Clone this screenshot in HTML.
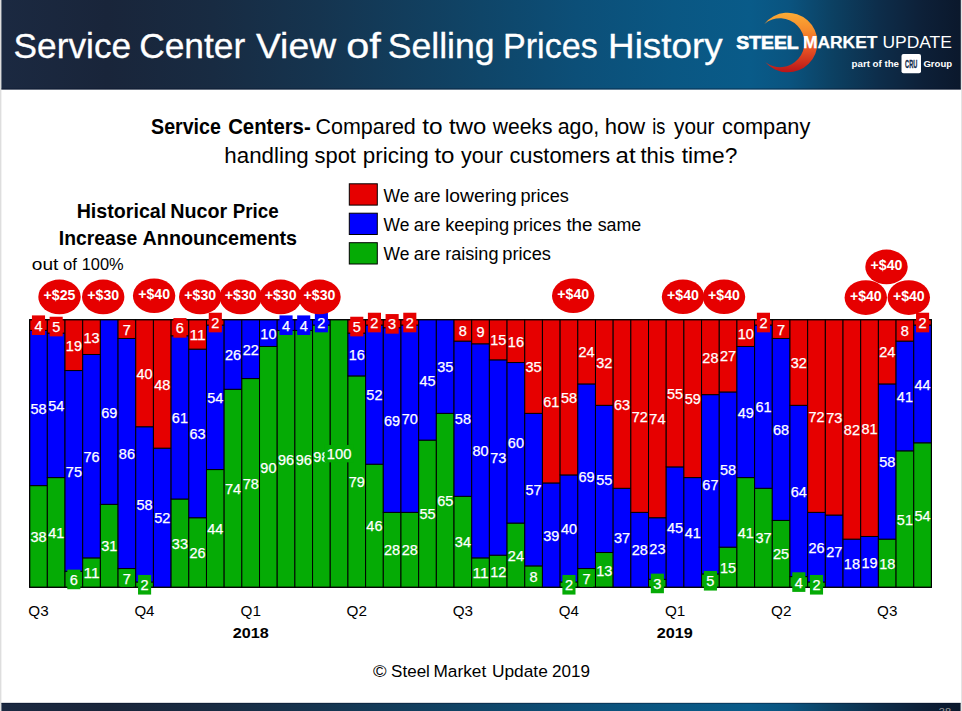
<!DOCTYPE html>
<html><head><meta charset="utf-8"><title>Service Center View of Selling Prices History</title>
<style>
html,body{margin:0;padding:0;background:#fff;}
body{width:962px;height:711px;overflow:hidden;font-family:"Liberation Sans",sans-serif;}
svg{display:block;}
text{font-family:"Liberation Sans",sans-serif;}
</style></head><body>
<svg width="962" height="711" viewBox="0 0 962 711">
<defs>
<linearGradient id="hg" x1="0" y1="0" x2="1" y2="0">
<stop offset="0" stop-color="#1b2941"/>
<stop offset="0.11" stop-color="#19253a"/>
<stop offset="0.22" stop-color="#182b42"/>
<stop offset="0.33" stop-color="#15344f"/>
<stop offset="0.42" stop-color="#123d5c"/>
<stop offset="0.50" stop-color="#0f4568"/>
<stop offset="0.60" stop-color="#0c4f78"/>
<stop offset="0.70" stop-color="#0a5783"/>
<stop offset="0.78" stop-color="#095b89"/>
<stop offset="0.82" stop-color="#0a5480"/>
<stop offset="0.865" stop-color="#0c4163"/>
<stop offset="0.915" stop-color="#0d2d4a"/>
<stop offset="0.96" stop-color="#0d2038"/>
<stop offset="1" stop-color="#0b182c"/>
</linearGradient>
<linearGradient id="cg" x1="0" y1="0" x2="0" y2="1">
<stop offset="0" stop-color="#fbab35"/>
<stop offset="0.3" stop-color="#f58a2c"/>
<stop offset="0.6" stop-color="#ea5424"/>
<stop offset="1" stop-color="#b81418"/>
</linearGradient>
</defs>
<rect x="0" y="0" width="962" height="711" fill="#ffffff"/>
<rect x="0" y="0" width="1.4" height="711" fill="#dedede"/>
<rect x="961" y="0" width="1" height="711" fill="#e4e4e4"/>
<rect x="1.4" y="0" width="959.4" height="89.5" fill="url(#hg)"/>
<rect x="1.4" y="88.5" width="959.4" height="1" fill="#04102a" opacity="0.55"/>
<rect x="1.4" y="703" width="959.2" height="8" fill="url(#hg)"/>
<rect x="1.4" y="702.7" width="959.2" height="1" fill="#04102a" opacity="0.5"/>

<text x="13.6" y="58.3" font-size="35.5" fill="#fff" text-anchor="start" textLength="117.5" lengthAdjust="spacingAndGlyphs" stroke="#fff" stroke-width="0.3">Service</text>
<text x="139.2" y="58.3" font-size="35.5" fill="#fff" text-anchor="start" textLength="106.1" lengthAdjust="spacingAndGlyphs" stroke="#fff" stroke-width="0.3">Center</text>
<text x="255.9" y="58.3" font-size="35.5" fill="#fff" text-anchor="start" textLength="80.2" lengthAdjust="spacingAndGlyphs" stroke="#fff" stroke-width="0.3">View</text>
<text x="346.3" y="58.3" font-size="35.5" fill="#fff" text-anchor="start" textLength="34.6" lengthAdjust="spacingAndGlyphs" stroke="#fff" stroke-width="0.3">of</text>
<text x="387.8" y="58.3" font-size="35.5" fill="#fff" text-anchor="start" textLength="106.8" lengthAdjust="spacingAndGlyphs" stroke="#fff" stroke-width="0.3">Selling</text>
<text x="503.0" y="58.3" font-size="35.5" fill="#fff" text-anchor="start" textLength="94.7" lengthAdjust="spacingAndGlyphs" stroke="#fff" stroke-width="0.3">Prices</text>
<text x="608.1" y="58.3" font-size="35.5" fill="#fff" text-anchor="start" textLength="114.5" lengthAdjust="spacingAndGlyphs" stroke="#fff" stroke-width="0.3">History</text>
<path fill="url(#cg)" d="M764.35,24.03 A29.8,29.8 0 1,1 765.35,62.25 A24.4,24.4 0 1,0 764.35,24.03 Z"/>
<text x="736.3" y="48.8" font-size="17.5" fill="#fff" font-weight="bold" text-anchor="start" textLength="62.3" lengthAdjust="spacingAndGlyphs" stroke="#fff" stroke-width="0.7">STEEL</text>
<text x="802.9" y="48.4" font-size="17.4" fill="#fff" font-weight="bold" text-anchor="start" textLength="74.6" lengthAdjust="spacingAndGlyphs" stroke="#fff" stroke-width="0.25">MARKET</text>
<text x="882.4" y="48.4" font-size="17.4" fill="#fff" text-anchor="start" textLength="69.5" lengthAdjust="spacingAndGlyphs">UPDATE</text>
<text x="851.6" y="67.4" font-size="9.7" fill="#fff" font-weight="bold" text-anchor="start" textLength="47.4" lengthAdjust="spacingAndGlyphs">part of the</text>
<rect x="901.5" y="54.1" width="19.5" height="19.2" rx="2" ry="2" fill="#ffffff"/>
<text x="905.1" y="68.0" font-size="11.6" fill="#10294a" font-weight="bold" text-anchor="start" textLength="12.2" lengthAdjust="spacingAndGlyphs" stroke="#10294a" stroke-width="0.35">CRU</text>
<text x="923.4" y="67.4" font-size="9.7" fill="#fff" font-weight="bold" text-anchor="start" textLength="28.8" lengthAdjust="spacingAndGlyphs">Group</text>
<text x="151.1" y="133.8" font-size="22" fill="#000" font-weight="bold" text-anchor="start" textLength="69.8" lengthAdjust="spacingAndGlyphs">Service</text>
<text x="228.2" y="133.8" font-size="22" fill="#000" font-weight="bold" text-anchor="start" textLength="82.5" lengthAdjust="spacingAndGlyphs">Centers-</text>
<text x="315.5" y="133.8" font-size="22" fill="#000" text-anchor="start" textLength="100.3" lengthAdjust="spacingAndGlyphs">Compared</text>
<text x="422.2" y="133.8" font-size="22" fill="#000" text-anchor="start" textLength="20.4" lengthAdjust="spacingAndGlyphs">to</text>
<text x="449.0" y="133.8" font-size="22" fill="#000" text-anchor="start" textLength="37.2" lengthAdjust="spacingAndGlyphs">two</text>
<text x="492.8" y="133.8" font-size="22" fill="#000" text-anchor="start" textLength="59.6" lengthAdjust="spacingAndGlyphs">weeks</text>
<text x="557.7" y="133.8" font-size="22" fill="#000" text-anchor="start" textLength="41.6" lengthAdjust="spacingAndGlyphs">ago,</text>
<text x="604.7" y="133.8" font-size="22" fill="#000" text-anchor="start" textLength="40.4" lengthAdjust="spacingAndGlyphs">how</text>
<text x="652.2" y="133.8" font-size="22" fill="#000" text-anchor="start" textLength="13.1" lengthAdjust="spacingAndGlyphs">is</text>
<text x="674.1" y="133.8" font-size="22" fill="#000" text-anchor="start" textLength="40.3" lengthAdjust="spacingAndGlyphs">your</text>
<text x="722.0" y="133.8" font-size="22" fill="#000" text-anchor="start" textLength="88.3" lengthAdjust="spacingAndGlyphs">company</text>
<text x="224.3" y="162.7" font-size="22" fill="#000" text-anchor="start" textLength="84.5" lengthAdjust="spacingAndGlyphs">handling</text>
<text x="314.5" y="162.7" font-size="22" fill="#000" text-anchor="start" textLength="41.4" lengthAdjust="spacingAndGlyphs">spot</text>
<text x="362.8" y="162.7" font-size="22" fill="#000" text-anchor="start" textLength="66.0" lengthAdjust="spacingAndGlyphs">pricing</text>
<text x="434.4" y="162.7" font-size="22" fill="#000" text-anchor="start" textLength="20.1" lengthAdjust="spacingAndGlyphs">to</text>
<text x="461.0" y="162.7" font-size="22" fill="#000" text-anchor="start" textLength="41.9" lengthAdjust="spacingAndGlyphs">your</text>
<text x="509.4" y="162.7" font-size="22" fill="#000" text-anchor="start" textLength="100.7" lengthAdjust="spacingAndGlyphs">customers</text>
<text x="615.6" y="162.7" font-size="22" fill="#000" text-anchor="start" textLength="20.0" lengthAdjust="spacingAndGlyphs">at</text>
<text x="640.4" y="162.7" font-size="22" fill="#000" text-anchor="start" textLength="34.4" lengthAdjust="spacingAndGlyphs">this</text>
<text x="681.7" y="162.7" font-size="22" fill="#000" text-anchor="start" textLength="55.6" lengthAdjust="spacingAndGlyphs">time?</text>
<rect x="349.3" y="183.8" width="28" height="21.3" fill="#e60000" stroke="#000" stroke-width="1"/>
<text x="383.6" y="201.5" font-size="18.3" fill="#000" text-anchor="start" textLength="25.8" lengthAdjust="spacingAndGlyphs">We</text>
<text x="413.8" y="201.5" font-size="18.3" fill="#000" text-anchor="start" textLength="26.6" lengthAdjust="spacingAndGlyphs">are</text>
<text x="445.1" y="201.5" font-size="18.3" fill="#000" text-anchor="start" textLength="71.7" lengthAdjust="spacingAndGlyphs">lowering</text>
<text x="520.5" y="201.5" font-size="18.3" fill="#000" text-anchor="start" textLength="48.3" lengthAdjust="spacingAndGlyphs">prices</text>
<rect x="349.3" y="213.2" width="28" height="21.3" fill="#0000ff" stroke="#000" stroke-width="1"/>
<text x="383.6" y="230.7" font-size="18.3" fill="#000" text-anchor="start" textLength="25.8" lengthAdjust="spacingAndGlyphs">We</text>
<text x="413.8" y="230.7" font-size="18.3" fill="#000" text-anchor="start" textLength="26.6" lengthAdjust="spacingAndGlyphs">are</text>
<text x="445.2" y="230.7" font-size="18.3" fill="#000" text-anchor="start" textLength="63.9" lengthAdjust="spacingAndGlyphs">keeping</text>
<text x="513.0" y="230.7" font-size="18.3" fill="#000" text-anchor="start" textLength="48.2" lengthAdjust="spacingAndGlyphs">prices</text>
<text x="566.4" y="230.7" font-size="18.3" fill="#000" text-anchor="start" textLength="26.2" lengthAdjust="spacingAndGlyphs">the</text>
<text x="597.7" y="230.7" font-size="18.3" fill="#000" text-anchor="start" textLength="43.6" lengthAdjust="spacingAndGlyphs">same</text>
<rect x="349.3" y="242.7" width="28" height="21.3" fill="#05ab05" stroke="#000" stroke-width="1"/>
<text x="383.6" y="259.8" font-size="18.3" fill="#000" text-anchor="start" textLength="25.8" lengthAdjust="spacingAndGlyphs">We</text>
<text x="413.8" y="259.8" font-size="18.3" fill="#000" text-anchor="start" textLength="26.6" lengthAdjust="spacingAndGlyphs">are</text>
<text x="445.2" y="259.8" font-size="18.3" fill="#000" text-anchor="start" textLength="53.3" lengthAdjust="spacingAndGlyphs">raising</text>
<text x="502.3" y="259.8" font-size="18.3" fill="#000" text-anchor="start" textLength="48.7" lengthAdjust="spacingAndGlyphs">prices</text>
<text x="76.7" y="217.6" font-size="20.8" fill="#000" font-weight="bold" text-anchor="start" textLength="89.5" lengthAdjust="spacingAndGlyphs">Historical</text>
<text x="170.3" y="217.6" font-size="20.8" fill="#000" font-weight="bold" text-anchor="start" textLength="57.0" lengthAdjust="spacingAndGlyphs">Nucor</text>
<text x="232.7" y="217.6" font-size="20.8" fill="#000" font-weight="bold" text-anchor="start" textLength="45.9" lengthAdjust="spacingAndGlyphs">Price</text>
<text x="58.8" y="244.7" font-size="20.8" fill="#000" font-weight="bold" text-anchor="start" textLength="78.4" lengthAdjust="spacingAndGlyphs">Increase</text>
<text x="142.6" y="244.7" font-size="20.8" fill="#000" font-weight="bold" text-anchor="start" textLength="154.5" lengthAdjust="spacingAndGlyphs">Announcements</text>
<text x="31.8" y="269.8" font-size="17.2" fill="#000" text-anchor="start" textLength="26.6" lengthAdjust="spacingAndGlyphs">out</text>
<text x="63.0" y="269.8" font-size="17.2" fill="#000" text-anchor="start" textLength="13.9" lengthAdjust="spacingAndGlyphs">of</text>
<text x="81.7" y="269.8" font-size="17.2" fill="#000" text-anchor="start" textLength="42.0" lengthAdjust="spacingAndGlyphs">100%</text>
<rect x="29.65" y="485.61" width="17.68" height="101.69" fill="#05ab05" stroke="#000" stroke-width="1"/>
<rect x="29.65" y="330.40" width="17.68" height="155.21" fill="#0000ff" stroke="#000" stroke-width="1"/>
<rect x="29.65" y="319.70" width="17.68" height="10.70" fill="#e60000" stroke="#000" stroke-width="1"/>
<rect x="47.33" y="477.58" width="17.68" height="109.72" fill="#05ab05" stroke="#000" stroke-width="1"/>
<rect x="47.33" y="333.08" width="17.68" height="144.50" fill="#0000ff" stroke="#000" stroke-width="1"/>
<rect x="47.33" y="319.70" width="17.68" height="13.38" fill="#e60000" stroke="#000" stroke-width="1"/>
<rect x="65.01" y="571.24" width="17.68" height="16.06" fill="#05ab05" stroke="#000" stroke-width="1"/>
<rect x="65.01" y="370.54" width="17.68" height="200.70" fill="#0000ff" stroke="#000" stroke-width="1"/>
<rect x="65.01" y="319.70" width="17.68" height="50.84" fill="#e60000" stroke="#000" stroke-width="1"/>
<rect x="82.70" y="557.86" width="17.68" height="29.44" fill="#05ab05" stroke="#000" stroke-width="1"/>
<rect x="82.70" y="354.49" width="17.68" height="203.38" fill="#0000ff" stroke="#000" stroke-width="1"/>
<rect x="82.70" y="319.70" width="17.68" height="34.79" fill="#e60000" stroke="#000" stroke-width="1"/>
<rect x="100.38" y="504.34" width="17.68" height="82.96" fill="#05ab05" stroke="#000" stroke-width="1"/>
<rect x="100.38" y="319.70" width="17.68" height="184.64" fill="#0000ff" stroke="#000" stroke-width="1"/>
<rect x="118.06" y="568.57" width="17.68" height="18.73" fill="#05ab05" stroke="#000" stroke-width="1"/>
<rect x="118.06" y="338.43" width="17.68" height="230.14" fill="#0000ff" stroke="#000" stroke-width="1"/>
<rect x="118.06" y="319.70" width="17.68" height="18.73" fill="#e60000" stroke="#000" stroke-width="1"/>
<rect x="135.74" y="581.95" width="17.68" height="5.35" fill="#05ab05" stroke="#000" stroke-width="1"/>
<rect x="135.74" y="426.74" width="17.68" height="155.21" fill="#0000ff" stroke="#000" stroke-width="1"/>
<rect x="135.74" y="319.70" width="17.68" height="107.04" fill="#e60000" stroke="#000" stroke-width="1"/>
<rect x="153.42" y="448.15" width="17.68" height="139.15" fill="#0000ff" stroke="#000" stroke-width="1"/>
<rect x="153.42" y="319.70" width="17.68" height="128.45" fill="#e60000" stroke="#000" stroke-width="1"/>
<rect x="171.11" y="498.99" width="17.68" height="88.31" fill="#05ab05" stroke="#000" stroke-width="1"/>
<rect x="171.11" y="335.76" width="17.68" height="163.24" fill="#0000ff" stroke="#000" stroke-width="1"/>
<rect x="171.11" y="319.70" width="17.68" height="16.06" fill="#e60000" stroke="#000" stroke-width="1"/>
<rect x="188.79" y="517.72" width="17.68" height="69.58" fill="#05ab05" stroke="#000" stroke-width="1"/>
<rect x="188.79" y="349.14" width="17.68" height="168.59" fill="#0000ff" stroke="#000" stroke-width="1"/>
<rect x="188.79" y="319.70" width="17.68" height="29.44" fill="#e60000" stroke="#000" stroke-width="1"/>
<rect x="206.47" y="469.56" width="17.68" height="117.74" fill="#05ab05" stroke="#000" stroke-width="1"/>
<rect x="206.47" y="325.05" width="17.68" height="144.50" fill="#0000ff" stroke="#000" stroke-width="1"/>
<rect x="206.47" y="319.70" width="17.68" height="5.35" fill="#e60000" stroke="#000" stroke-width="1"/>
<rect x="224.15" y="389.28" width="17.68" height="198.02" fill="#05ab05" stroke="#000" stroke-width="1"/>
<rect x="224.15" y="319.70" width="17.68" height="69.58" fill="#0000ff" stroke="#000" stroke-width="1"/>
<rect x="241.83" y="378.57" width="17.68" height="208.73" fill="#05ab05" stroke="#000" stroke-width="1"/>
<rect x="241.83" y="319.70" width="17.68" height="58.87" fill="#0000ff" stroke="#000" stroke-width="1"/>
<rect x="259.52" y="346.46" width="17.68" height="240.84" fill="#05ab05" stroke="#000" stroke-width="1"/>
<rect x="259.52" y="319.70" width="17.68" height="26.76" fill="#0000ff" stroke="#000" stroke-width="1"/>
<rect x="277.20" y="330.40" width="17.68" height="256.90" fill="#05ab05" stroke="#000" stroke-width="1"/>
<rect x="277.20" y="319.70" width="17.68" height="10.70" fill="#0000ff" stroke="#000" stroke-width="1"/>
<rect x="294.88" y="330.40" width="17.68" height="256.90" fill="#05ab05" stroke="#000" stroke-width="1"/>
<rect x="294.88" y="319.70" width="17.68" height="10.70" fill="#0000ff" stroke="#000" stroke-width="1"/>
<rect x="312.56" y="325.05" width="17.68" height="262.25" fill="#05ab05" stroke="#000" stroke-width="1"/>
<rect x="312.56" y="319.70" width="17.68" height="5.35" fill="#0000ff" stroke="#000" stroke-width="1"/>
<rect x="330.24" y="319.70" width="17.68" height="267.60" fill="#05ab05" stroke="#000" stroke-width="1"/>
<rect x="347.93" y="375.90" width="17.68" height="211.40" fill="#05ab05" stroke="#000" stroke-width="1"/>
<rect x="347.93" y="333.08" width="17.68" height="42.82" fill="#0000ff" stroke="#000" stroke-width="1"/>
<rect x="347.93" y="319.70" width="17.68" height="13.38" fill="#e60000" stroke="#000" stroke-width="1"/>
<rect x="365.61" y="464.20" width="17.68" height="123.10" fill="#05ab05" stroke="#000" stroke-width="1"/>
<rect x="365.61" y="325.05" width="17.68" height="139.15" fill="#0000ff" stroke="#000" stroke-width="1"/>
<rect x="365.61" y="319.70" width="17.68" height="5.35" fill="#e60000" stroke="#000" stroke-width="1"/>
<rect x="383.29" y="512.37" width="17.68" height="74.93" fill="#05ab05" stroke="#000" stroke-width="1"/>
<rect x="383.29" y="327.73" width="17.68" height="184.64" fill="#0000ff" stroke="#000" stroke-width="1"/>
<rect x="383.29" y="319.70" width="17.68" height="8.03" fill="#e60000" stroke="#000" stroke-width="1"/>
<rect x="400.97" y="512.37" width="17.68" height="74.93" fill="#05ab05" stroke="#000" stroke-width="1"/>
<rect x="400.97" y="325.05" width="17.68" height="187.32" fill="#0000ff" stroke="#000" stroke-width="1"/>
<rect x="400.97" y="319.70" width="17.68" height="5.35" fill="#e60000" stroke="#000" stroke-width="1"/>
<rect x="418.65" y="440.12" width="17.68" height="147.18" fill="#05ab05" stroke="#000" stroke-width="1"/>
<rect x="418.65" y="319.70" width="17.68" height="120.42" fill="#0000ff" stroke="#000" stroke-width="1"/>
<rect x="436.34" y="413.36" width="17.68" height="173.94" fill="#05ab05" stroke="#000" stroke-width="1"/>
<rect x="436.34" y="319.70" width="17.68" height="93.66" fill="#0000ff" stroke="#000" stroke-width="1"/>
<rect x="454.02" y="496.32" width="17.68" height="90.98" fill="#05ab05" stroke="#000" stroke-width="1"/>
<rect x="454.02" y="341.11" width="17.68" height="155.21" fill="#0000ff" stroke="#000" stroke-width="1"/>
<rect x="454.02" y="319.70" width="17.68" height="21.41" fill="#e60000" stroke="#000" stroke-width="1"/>
<rect x="471.70" y="557.86" width="17.68" height="29.44" fill="#05ab05" stroke="#000" stroke-width="1"/>
<rect x="471.70" y="343.78" width="17.68" height="214.08" fill="#0000ff" stroke="#000" stroke-width="1"/>
<rect x="471.70" y="319.70" width="17.68" height="24.08" fill="#e60000" stroke="#000" stroke-width="1"/>
<rect x="489.38" y="555.19" width="17.68" height="32.11" fill="#05ab05" stroke="#000" stroke-width="1"/>
<rect x="489.38" y="359.84" width="17.68" height="195.35" fill="#0000ff" stroke="#000" stroke-width="1"/>
<rect x="489.38" y="319.70" width="17.68" height="40.14" fill="#e60000" stroke="#000" stroke-width="1"/>
<rect x="507.06" y="523.08" width="17.68" height="64.22" fill="#05ab05" stroke="#000" stroke-width="1"/>
<rect x="507.06" y="362.52" width="17.68" height="160.56" fill="#0000ff" stroke="#000" stroke-width="1"/>
<rect x="507.06" y="319.70" width="17.68" height="42.82" fill="#e60000" stroke="#000" stroke-width="1"/>
<rect x="524.75" y="565.89" width="17.68" height="21.41" fill="#05ab05" stroke="#000" stroke-width="1"/>
<rect x="524.75" y="413.36" width="17.68" height="152.53" fill="#0000ff" stroke="#000" stroke-width="1"/>
<rect x="524.75" y="319.70" width="17.68" height="93.66" fill="#e60000" stroke="#000" stroke-width="1"/>
<rect x="542.43" y="482.94" width="17.68" height="104.36" fill="#0000ff" stroke="#000" stroke-width="1"/>
<rect x="542.43" y="319.70" width="17.68" height="163.24" fill="#e60000" stroke="#000" stroke-width="1"/>
<rect x="560.11" y="581.95" width="17.68" height="5.35" fill="#05ab05" stroke="#000" stroke-width="1"/>
<rect x="560.11" y="474.91" width="17.68" height="107.04" fill="#0000ff" stroke="#000" stroke-width="1"/>
<rect x="560.11" y="319.70" width="17.68" height="155.21" fill="#e60000" stroke="#000" stroke-width="1"/>
<rect x="577.79" y="568.57" width="17.68" height="18.73" fill="#05ab05" stroke="#000" stroke-width="1"/>
<rect x="577.79" y="383.92" width="17.68" height="184.64" fill="#0000ff" stroke="#000" stroke-width="1"/>
<rect x="577.79" y="319.70" width="17.68" height="64.22" fill="#e60000" stroke="#000" stroke-width="1"/>
<rect x="595.47" y="552.51" width="17.68" height="34.79" fill="#05ab05" stroke="#000" stroke-width="1"/>
<rect x="595.47" y="405.33" width="17.68" height="147.18" fill="#0000ff" stroke="#000" stroke-width="1"/>
<rect x="595.47" y="319.70" width="17.68" height="85.63" fill="#e60000" stroke="#000" stroke-width="1"/>
<rect x="613.16" y="488.29" width="17.68" height="99.01" fill="#0000ff" stroke="#000" stroke-width="1"/>
<rect x="613.16" y="319.70" width="17.68" height="168.59" fill="#e60000" stroke="#000" stroke-width="1"/>
<rect x="630.84" y="512.37" width="17.68" height="74.93" fill="#0000ff" stroke="#000" stroke-width="1"/>
<rect x="630.84" y="319.70" width="17.68" height="192.67" fill="#e60000" stroke="#000" stroke-width="1"/>
<rect x="648.52" y="579.27" width="17.68" height="8.03" fill="#05ab05" stroke="#000" stroke-width="1"/>
<rect x="648.52" y="517.72" width="17.68" height="61.55" fill="#0000ff" stroke="#000" stroke-width="1"/>
<rect x="648.52" y="319.70" width="17.68" height="198.02" fill="#e60000" stroke="#000" stroke-width="1"/>
<rect x="666.20" y="466.88" width="17.68" height="120.42" fill="#0000ff" stroke="#000" stroke-width="1"/>
<rect x="666.20" y="319.70" width="17.68" height="147.18" fill="#e60000" stroke="#000" stroke-width="1"/>
<rect x="683.88" y="477.58" width="17.68" height="109.72" fill="#0000ff" stroke="#000" stroke-width="1"/>
<rect x="683.88" y="319.70" width="17.68" height="157.88" fill="#e60000" stroke="#000" stroke-width="1"/>
<rect x="701.57" y="573.92" width="17.68" height="13.38" fill="#05ab05" stroke="#000" stroke-width="1"/>
<rect x="701.57" y="394.63" width="17.68" height="179.29" fill="#0000ff" stroke="#000" stroke-width="1"/>
<rect x="701.57" y="319.70" width="17.68" height="74.93" fill="#e60000" stroke="#000" stroke-width="1"/>
<rect x="719.25" y="547.16" width="17.68" height="40.14" fill="#05ab05" stroke="#000" stroke-width="1"/>
<rect x="719.25" y="391.95" width="17.68" height="155.21" fill="#0000ff" stroke="#000" stroke-width="1"/>
<rect x="719.25" y="319.70" width="17.68" height="72.25" fill="#e60000" stroke="#000" stroke-width="1"/>
<rect x="736.93" y="477.58" width="17.68" height="109.72" fill="#05ab05" stroke="#000" stroke-width="1"/>
<rect x="736.93" y="346.46" width="17.68" height="131.12" fill="#0000ff" stroke="#000" stroke-width="1"/>
<rect x="736.93" y="319.70" width="17.68" height="26.76" fill="#e60000" stroke="#000" stroke-width="1"/>
<rect x="754.61" y="488.29" width="17.68" height="99.01" fill="#05ab05" stroke="#000" stroke-width="1"/>
<rect x="754.61" y="325.05" width="17.68" height="163.24" fill="#0000ff" stroke="#000" stroke-width="1"/>
<rect x="754.61" y="319.70" width="17.68" height="5.35" fill="#e60000" stroke="#000" stroke-width="1"/>
<rect x="772.29" y="520.40" width="17.68" height="66.90" fill="#05ab05" stroke="#000" stroke-width="1"/>
<rect x="772.29" y="338.43" width="17.68" height="181.97" fill="#0000ff" stroke="#000" stroke-width="1"/>
<rect x="772.29" y="319.70" width="17.68" height="18.73" fill="#e60000" stroke="#000" stroke-width="1"/>
<rect x="789.98" y="576.60" width="17.68" height="10.70" fill="#05ab05" stroke="#000" stroke-width="1"/>
<rect x="789.98" y="405.33" width="17.68" height="171.26" fill="#0000ff" stroke="#000" stroke-width="1"/>
<rect x="789.98" y="319.70" width="17.68" height="85.63" fill="#e60000" stroke="#000" stroke-width="1"/>
<rect x="807.66" y="581.95" width="17.68" height="5.35" fill="#05ab05" stroke="#000" stroke-width="1"/>
<rect x="807.66" y="512.37" width="17.68" height="69.58" fill="#0000ff" stroke="#000" stroke-width="1"/>
<rect x="807.66" y="319.70" width="17.68" height="192.67" fill="#e60000" stroke="#000" stroke-width="1"/>
<rect x="825.34" y="515.05" width="17.68" height="72.25" fill="#0000ff" stroke="#000" stroke-width="1"/>
<rect x="825.34" y="319.70" width="17.68" height="195.35" fill="#e60000" stroke="#000" stroke-width="1"/>
<rect x="843.02" y="539.13" width="17.68" height="48.17" fill="#0000ff" stroke="#000" stroke-width="1"/>
<rect x="843.02" y="319.70" width="17.68" height="219.43" fill="#e60000" stroke="#000" stroke-width="1"/>
<rect x="860.70" y="536.46" width="17.68" height="50.84" fill="#0000ff" stroke="#000" stroke-width="1"/>
<rect x="860.70" y="319.70" width="17.68" height="216.76" fill="#e60000" stroke="#000" stroke-width="1"/>
<rect x="878.39" y="539.13" width="17.68" height="48.17" fill="#05ab05" stroke="#000" stroke-width="1"/>
<rect x="878.39" y="383.92" width="17.68" height="155.21" fill="#0000ff" stroke="#000" stroke-width="1"/>
<rect x="878.39" y="319.70" width="17.68" height="64.22" fill="#e60000" stroke="#000" stroke-width="1"/>
<rect x="896.07" y="450.82" width="17.68" height="136.48" fill="#05ab05" stroke="#000" stroke-width="1"/>
<rect x="896.07" y="341.11" width="17.68" height="109.72" fill="#0000ff" stroke="#000" stroke-width="1"/>
<rect x="896.07" y="319.70" width="17.68" height="21.41" fill="#e60000" stroke="#000" stroke-width="1"/>
<rect x="913.75" y="442.80" width="17.68" height="144.50" fill="#05ab05" stroke="#000" stroke-width="1"/>
<rect x="913.75" y="325.05" width="17.68" height="117.74" fill="#0000ff" stroke="#000" stroke-width="1"/>
<rect x="913.75" y="319.70" width="17.68" height="5.35" fill="#e60000" stroke="#000" stroke-width="1"/>
<rect x="29.65" y="319.70" width="901.78" height="267.60" fill="none" stroke="#000" stroke-width="1.1"/>
<text x="38.5" y="542.1" font-size="14.4" fill="#fff" text-anchor="middle" textLength="16.1" lengthAdjust="spacingAndGlyphs" stroke="#fff" stroke-width="0.25">38</text>
<text x="56.2" y="538.0" font-size="14.4" fill="#fff" text-anchor="middle" textLength="16.1" lengthAdjust="spacingAndGlyphs" stroke="#fff" stroke-width="0.25">41</text>
<rect x="67.30" y="569.62" width="13.1" height="19.6" fill="#05ab05"/>
<text x="73.9" y="584.9" font-size="14.4" fill="#fff" text-anchor="middle" textLength="8.1" lengthAdjust="spacingAndGlyphs" stroke="#fff" stroke-width="0.25">6</text>
<text x="91.5" y="578.2" font-size="14.4" fill="#fff" text-anchor="middle" textLength="16.1" lengthAdjust="spacingAndGlyphs" stroke="#fff" stroke-width="0.25">11</text>
<text x="109.2" y="551.4" font-size="14.4" fill="#fff" text-anchor="middle" textLength="16.1" lengthAdjust="spacingAndGlyphs" stroke="#fff" stroke-width="0.25">31</text>
<rect x="120.35" y="569.38" width="13.1" height="17.4" fill="#05ab05"/>
<text x="126.9" y="583.5" font-size="14.4" fill="#fff" text-anchor="middle" textLength="8.1" lengthAdjust="spacingAndGlyphs" stroke="#fff" stroke-width="0.25">7</text>
<rect x="138.03" y="574.97" width="13.1" height="19.6" fill="#05ab05"/>
<text x="144.6" y="590.2" font-size="14.4" fill="#fff" text-anchor="middle" textLength="8.1" lengthAdjust="spacingAndGlyphs" stroke="#fff" stroke-width="0.25">2</text>
<text x="179.9" y="548.7" font-size="14.4" fill="#fff" text-anchor="middle" textLength="16.1" lengthAdjust="spacingAndGlyphs" stroke="#fff" stroke-width="0.25">33</text>
<text x="197.6" y="558.1" font-size="14.4" fill="#fff" text-anchor="middle" textLength="16.1" lengthAdjust="spacingAndGlyphs" stroke="#fff" stroke-width="0.25">26</text>
<text x="215.3" y="534.0" font-size="14.4" fill="#fff" text-anchor="middle" textLength="16.1" lengthAdjust="spacingAndGlyphs" stroke="#fff" stroke-width="0.25">44</text>
<text x="233.0" y="493.9" font-size="14.4" fill="#fff" text-anchor="middle" textLength="16.1" lengthAdjust="spacingAndGlyphs" stroke="#fff" stroke-width="0.25">74</text>
<text x="250.7" y="488.5" font-size="14.4" fill="#fff" text-anchor="middle" textLength="16.1" lengthAdjust="spacingAndGlyphs" stroke="#fff" stroke-width="0.25">78</text>
<text x="268.4" y="472.5" font-size="14.4" fill="#fff" text-anchor="middle" textLength="16.1" lengthAdjust="spacingAndGlyphs" stroke="#fff" stroke-width="0.25">90</text>
<text x="286.0" y="464.5" font-size="14.4" fill="#fff" text-anchor="middle" textLength="16.1" lengthAdjust="spacingAndGlyphs" stroke="#fff" stroke-width="0.25">96</text>
<text x="303.7" y="464.5" font-size="14.4" fill="#fff" text-anchor="middle" textLength="16.1" lengthAdjust="spacingAndGlyphs" stroke="#fff" stroke-width="0.25">96</text>
<text x="321.4" y="461.8" font-size="14.4" fill="#fff" text-anchor="middle" textLength="16.1" lengthAdjust="spacingAndGlyphs" stroke="#fff" stroke-width="0.25">98</text>
<rect x="324.58" y="444.95" width="29" height="17.4" fill="#05ab05"/>
<text x="339.1" y="459.1" font-size="14.4" fill="#fff" text-anchor="middle" textLength="24.6" lengthAdjust="spacingAndGlyphs" stroke="#fff" stroke-width="0.25">100</text>
<text x="356.8" y="487.2" font-size="14.4" fill="#fff" text-anchor="middle" textLength="16.1" lengthAdjust="spacingAndGlyphs" stroke="#fff" stroke-width="0.25">79</text>
<text x="374.4" y="531.4" font-size="14.4" fill="#fff" text-anchor="middle" textLength="16.1" lengthAdjust="spacingAndGlyphs" stroke="#fff" stroke-width="0.25">46</text>
<text x="392.1" y="555.4" font-size="14.4" fill="#fff" text-anchor="middle" textLength="16.1" lengthAdjust="spacingAndGlyphs" stroke="#fff" stroke-width="0.25">28</text>
<text x="409.8" y="555.4" font-size="14.4" fill="#fff" text-anchor="middle" textLength="16.1" lengthAdjust="spacingAndGlyphs" stroke="#fff" stroke-width="0.25">28</text>
<text x="427.5" y="519.3" font-size="14.4" fill="#fff" text-anchor="middle" textLength="16.1" lengthAdjust="spacingAndGlyphs" stroke="#fff" stroke-width="0.25">55</text>
<text x="445.2" y="505.9" font-size="14.4" fill="#fff" text-anchor="middle" textLength="16.1" lengthAdjust="spacingAndGlyphs" stroke="#fff" stroke-width="0.25">65</text>
<text x="462.9" y="547.4" font-size="14.4" fill="#fff" text-anchor="middle" textLength="16.1" lengthAdjust="spacingAndGlyphs" stroke="#fff" stroke-width="0.25">34</text>
<text x="480.5" y="578.2" font-size="14.4" fill="#fff" text-anchor="middle" textLength="16.1" lengthAdjust="spacingAndGlyphs" stroke="#fff" stroke-width="0.25">11</text>
<text x="498.2" y="576.8" font-size="14.4" fill="#fff" text-anchor="middle" textLength="16.1" lengthAdjust="spacingAndGlyphs" stroke="#fff" stroke-width="0.25">12</text>
<text x="515.9" y="560.8" font-size="14.4" fill="#fff" text-anchor="middle" textLength="16.1" lengthAdjust="spacingAndGlyphs" stroke="#fff" stroke-width="0.25">24</text>
<rect x="527.04" y="568.05" width="13.1" height="17.4" fill="#05ab05"/>
<text x="533.6" y="582.2" font-size="14.4" fill="#fff" text-anchor="middle" textLength="8.1" lengthAdjust="spacingAndGlyphs" stroke="#fff" stroke-width="0.25">8</text>
<rect x="562.40" y="574.97" width="13.1" height="19.6" fill="#05ab05"/>
<text x="569.0" y="590.2" font-size="14.4" fill="#fff" text-anchor="middle" textLength="8.1" lengthAdjust="spacingAndGlyphs" stroke="#fff" stroke-width="0.25">2</text>
<rect x="580.08" y="569.38" width="13.1" height="17.4" fill="#05ab05"/>
<text x="586.6" y="583.5" font-size="14.4" fill="#fff" text-anchor="middle" textLength="8.1" lengthAdjust="spacingAndGlyphs" stroke="#fff" stroke-width="0.25">7</text>
<text x="604.3" y="575.5" font-size="14.4" fill="#fff" text-anchor="middle" textLength="16.1" lengthAdjust="spacingAndGlyphs" stroke="#fff" stroke-width="0.25">13</text>
<rect x="650.81" y="573.64" width="13.1" height="19.6" fill="#05ab05"/>
<text x="657.4" y="588.9" font-size="14.4" fill="#fff" text-anchor="middle" textLength="8.1" lengthAdjust="spacingAndGlyphs" stroke="#fff" stroke-width="0.25">3</text>
<rect x="703.86" y="570.96" width="13.1" height="19.6" fill="#05ab05"/>
<text x="710.4" y="586.2" font-size="14.4" fill="#fff" text-anchor="middle" textLength="8.1" lengthAdjust="spacingAndGlyphs" stroke="#fff" stroke-width="0.25">5</text>
<text x="728.1" y="572.8" font-size="14.4" fill="#fff" text-anchor="middle" textLength="16.1" lengthAdjust="spacingAndGlyphs" stroke="#fff" stroke-width="0.25">15</text>
<text x="745.8" y="538.0" font-size="14.4" fill="#fff" text-anchor="middle" textLength="16.1" lengthAdjust="spacingAndGlyphs" stroke="#fff" stroke-width="0.25">41</text>
<text x="763.5" y="543.4" font-size="14.4" fill="#fff" text-anchor="middle" textLength="16.1" lengthAdjust="spacingAndGlyphs" stroke="#fff" stroke-width="0.25">37</text>
<text x="781.1" y="559.4" font-size="14.4" fill="#fff" text-anchor="middle" textLength="16.1" lengthAdjust="spacingAndGlyphs" stroke="#fff" stroke-width="0.25">25</text>
<rect x="792.27" y="572.30" width="13.1" height="19.6" fill="#05ab05"/>
<text x="798.8" y="587.5" font-size="14.4" fill="#fff" text-anchor="middle" textLength="8.1" lengthAdjust="spacingAndGlyphs" stroke="#fff" stroke-width="0.25">4</text>
<rect x="809.95" y="574.97" width="13.1" height="19.6" fill="#05ab05"/>
<text x="816.5" y="590.2" font-size="14.4" fill="#fff" text-anchor="middle" textLength="8.1" lengthAdjust="spacingAndGlyphs" stroke="#fff" stroke-width="0.25">2</text>
<text x="887.2" y="568.8" font-size="14.4" fill="#fff" text-anchor="middle" textLength="16.1" lengthAdjust="spacingAndGlyphs" stroke="#fff" stroke-width="0.25">18</text>
<text x="904.9" y="524.7" font-size="14.4" fill="#fff" text-anchor="middle" textLength="16.1" lengthAdjust="spacingAndGlyphs" stroke="#fff" stroke-width="0.25">51</text>
<text x="922.6" y="520.6" font-size="14.4" fill="#fff" text-anchor="middle" textLength="16.1" lengthAdjust="spacingAndGlyphs" stroke="#fff" stroke-width="0.25">54</text>
<text x="38.5" y="413.6" font-size="14.4" fill="#fff" text-anchor="middle" textLength="16.1" lengthAdjust="spacingAndGlyphs" stroke="#fff" stroke-width="0.25">58</text>
<text x="56.2" y="410.9" font-size="14.4" fill="#fff" text-anchor="middle" textLength="16.1" lengthAdjust="spacingAndGlyphs" stroke="#fff" stroke-width="0.25">54</text>
<text x="73.9" y="476.5" font-size="14.4" fill="#fff" text-anchor="middle" textLength="16.1" lengthAdjust="spacingAndGlyphs" stroke="#fff" stroke-width="0.25">75</text>
<text x="91.5" y="461.8" font-size="14.4" fill="#fff" text-anchor="middle" textLength="16.1" lengthAdjust="spacingAndGlyphs" stroke="#fff" stroke-width="0.25">76</text>
<text x="109.2" y="417.6" font-size="14.4" fill="#fff" text-anchor="middle" textLength="16.1" lengthAdjust="spacingAndGlyphs" stroke="#fff" stroke-width="0.25">69</text>
<text x="126.9" y="459.1" font-size="14.4" fill="#fff" text-anchor="middle" textLength="16.1" lengthAdjust="spacingAndGlyphs" stroke="#fff" stroke-width="0.25">86</text>
<text x="144.6" y="509.9" font-size="14.4" fill="#fff" text-anchor="middle" textLength="16.1" lengthAdjust="spacingAndGlyphs" stroke="#fff" stroke-width="0.25">58</text>
<text x="162.3" y="523.3" font-size="14.4" fill="#fff" text-anchor="middle" textLength="16.1" lengthAdjust="spacingAndGlyphs" stroke="#fff" stroke-width="0.25">52</text>
<text x="179.9" y="423.0" font-size="14.4" fill="#fff" text-anchor="middle" textLength="16.1" lengthAdjust="spacingAndGlyphs" stroke="#fff" stroke-width="0.25">61</text>
<text x="197.6" y="439.0" font-size="14.4" fill="#fff" text-anchor="middle" textLength="16.1" lengthAdjust="spacingAndGlyphs" stroke="#fff" stroke-width="0.25">63</text>
<text x="215.3" y="402.9" font-size="14.4" fill="#fff" text-anchor="middle" textLength="16.1" lengthAdjust="spacingAndGlyphs" stroke="#fff" stroke-width="0.25">54</text>
<text x="233.0" y="360.1" font-size="14.4" fill="#fff" text-anchor="middle" textLength="16.1" lengthAdjust="spacingAndGlyphs" stroke="#fff" stroke-width="0.25">26</text>
<text x="250.7" y="354.7" font-size="14.4" fill="#fff" text-anchor="middle" textLength="16.1" lengthAdjust="spacingAndGlyphs" stroke="#fff" stroke-width="0.25">22</text>
<text x="268.4" y="338.7" font-size="14.4" fill="#fff" text-anchor="middle" textLength="16.1" lengthAdjust="spacingAndGlyphs" stroke="#fff" stroke-width="0.25">10</text>
<rect x="279.49" y="315.40" width="13.1" height="19.6" fill="#0000ff"/>
<text x="286.0" y="330.7" font-size="14.4" fill="#fff" text-anchor="middle" textLength="8.1" lengthAdjust="spacingAndGlyphs" stroke="#fff" stroke-width="0.25">4</text>
<rect x="297.17" y="315.40" width="13.1" height="19.6" fill="#0000ff"/>
<text x="303.7" y="330.7" font-size="14.4" fill="#fff" text-anchor="middle" textLength="8.1" lengthAdjust="spacingAndGlyphs" stroke="#fff" stroke-width="0.25">4</text>
<rect x="314.85" y="312.73" width="13.1" height="19.6" fill="#0000ff"/>
<text x="321.4" y="328.0" font-size="14.4" fill="#fff" text-anchor="middle" textLength="8.1" lengthAdjust="spacingAndGlyphs" stroke="#fff" stroke-width="0.25">2</text>
<text x="356.8" y="360.1" font-size="14.4" fill="#fff" text-anchor="middle" textLength="16.1" lengthAdjust="spacingAndGlyphs" stroke="#fff" stroke-width="0.25">16</text>
<text x="374.4" y="400.2" font-size="14.4" fill="#fff" text-anchor="middle" textLength="16.1" lengthAdjust="spacingAndGlyphs" stroke="#fff" stroke-width="0.25">52</text>
<text x="392.1" y="425.6" font-size="14.4" fill="#fff" text-anchor="middle" textLength="16.1" lengthAdjust="spacingAndGlyphs" stroke="#fff" stroke-width="0.25">69</text>
<text x="409.8" y="424.3" font-size="14.4" fill="#fff" text-anchor="middle" textLength="16.1" lengthAdjust="spacingAndGlyphs" stroke="#fff" stroke-width="0.25">70</text>
<text x="427.5" y="385.5" font-size="14.4" fill="#fff" text-anchor="middle" textLength="16.1" lengthAdjust="spacingAndGlyphs" stroke="#fff" stroke-width="0.25">45</text>
<text x="445.2" y="372.1" font-size="14.4" fill="#fff" text-anchor="middle" textLength="16.1" lengthAdjust="spacingAndGlyphs" stroke="#fff" stroke-width="0.25">35</text>
<text x="462.9" y="424.3" font-size="14.4" fill="#fff" text-anchor="middle" textLength="16.1" lengthAdjust="spacingAndGlyphs" stroke="#fff" stroke-width="0.25">58</text>
<text x="480.5" y="456.4" font-size="14.4" fill="#fff" text-anchor="middle" textLength="16.1" lengthAdjust="spacingAndGlyphs" stroke="#fff" stroke-width="0.25">80</text>
<text x="498.2" y="463.1" font-size="14.4" fill="#fff" text-anchor="middle" textLength="16.1" lengthAdjust="spacingAndGlyphs" stroke="#fff" stroke-width="0.25">73</text>
<text x="515.9" y="448.4" font-size="14.4" fill="#fff" text-anchor="middle" textLength="16.1" lengthAdjust="spacingAndGlyphs" stroke="#fff" stroke-width="0.25">60</text>
<text x="533.6" y="495.2" font-size="14.4" fill="#fff" text-anchor="middle" textLength="16.1" lengthAdjust="spacingAndGlyphs" stroke="#fff" stroke-width="0.25">57</text>
<text x="551.3" y="540.7" font-size="14.4" fill="#fff" text-anchor="middle" textLength="16.1" lengthAdjust="spacingAndGlyphs" stroke="#fff" stroke-width="0.25">39</text>
<text x="569.0" y="534.0" font-size="14.4" fill="#fff" text-anchor="middle" textLength="16.1" lengthAdjust="spacingAndGlyphs" stroke="#fff" stroke-width="0.25">40</text>
<text x="586.6" y="481.8" font-size="14.4" fill="#fff" text-anchor="middle" textLength="16.1" lengthAdjust="spacingAndGlyphs" stroke="#fff" stroke-width="0.25">69</text>
<text x="604.3" y="484.5" font-size="14.4" fill="#fff" text-anchor="middle" textLength="16.1" lengthAdjust="spacingAndGlyphs" stroke="#fff" stroke-width="0.25">55</text>
<text x="622.0" y="543.4" font-size="14.4" fill="#fff" text-anchor="middle" textLength="16.1" lengthAdjust="spacingAndGlyphs" stroke="#fff" stroke-width="0.25">37</text>
<text x="639.7" y="555.4" font-size="14.4" fill="#fff" text-anchor="middle" textLength="16.1" lengthAdjust="spacingAndGlyphs" stroke="#fff" stroke-width="0.25">28</text>
<text x="657.4" y="554.1" font-size="14.4" fill="#fff" text-anchor="middle" textLength="16.1" lengthAdjust="spacingAndGlyphs" stroke="#fff" stroke-width="0.25">23</text>
<text x="675.0" y="532.7" font-size="14.4" fill="#fff" text-anchor="middle" textLength="16.1" lengthAdjust="spacingAndGlyphs" stroke="#fff" stroke-width="0.25">45</text>
<text x="692.7" y="538.0" font-size="14.4" fill="#fff" text-anchor="middle" textLength="16.1" lengthAdjust="spacingAndGlyphs" stroke="#fff" stroke-width="0.25">41</text>
<text x="710.4" y="489.9" font-size="14.4" fill="#fff" text-anchor="middle" textLength="16.1" lengthAdjust="spacingAndGlyphs" stroke="#fff" stroke-width="0.25">67</text>
<text x="728.1" y="475.2" font-size="14.4" fill="#fff" text-anchor="middle" textLength="16.1" lengthAdjust="spacingAndGlyphs" stroke="#fff" stroke-width="0.25">58</text>
<text x="745.8" y="417.6" font-size="14.4" fill="#fff" text-anchor="middle" textLength="16.1" lengthAdjust="spacingAndGlyphs" stroke="#fff" stroke-width="0.25">49</text>
<text x="763.5" y="412.3" font-size="14.4" fill="#fff" text-anchor="middle" textLength="16.1" lengthAdjust="spacingAndGlyphs" stroke="#fff" stroke-width="0.25">61</text>
<text x="781.1" y="435.0" font-size="14.4" fill="#fff" text-anchor="middle" textLength="16.1" lengthAdjust="spacingAndGlyphs" stroke="#fff" stroke-width="0.25">68</text>
<text x="798.8" y="496.6" font-size="14.4" fill="#fff" text-anchor="middle" textLength="16.1" lengthAdjust="spacingAndGlyphs" stroke="#fff" stroke-width="0.25">64</text>
<text x="816.5" y="552.8" font-size="14.4" fill="#fff" text-anchor="middle" textLength="16.1" lengthAdjust="spacingAndGlyphs" stroke="#fff" stroke-width="0.25">26</text>
<text x="834.2" y="556.8" font-size="14.4" fill="#fff" text-anchor="middle" textLength="16.1" lengthAdjust="spacingAndGlyphs" stroke="#fff" stroke-width="0.25">27</text>
<text x="851.9" y="568.8" font-size="14.4" fill="#fff" text-anchor="middle" textLength="16.1" lengthAdjust="spacingAndGlyphs" stroke="#fff" stroke-width="0.25">18</text>
<text x="869.5" y="567.5" font-size="14.4" fill="#fff" text-anchor="middle" textLength="16.1" lengthAdjust="spacingAndGlyphs" stroke="#fff" stroke-width="0.25">19</text>
<text x="887.2" y="467.1" font-size="14.4" fill="#fff" text-anchor="middle" textLength="16.1" lengthAdjust="spacingAndGlyphs" stroke="#fff" stroke-width="0.25">58</text>
<text x="904.9" y="401.6" font-size="14.4" fill="#fff" text-anchor="middle" textLength="16.1" lengthAdjust="spacingAndGlyphs" stroke="#fff" stroke-width="0.25">41</text>
<text x="922.6" y="389.5" font-size="14.4" fill="#fff" text-anchor="middle" textLength="16.1" lengthAdjust="spacingAndGlyphs" stroke="#fff" stroke-width="0.25">44</text>
<rect x="31.94" y="315.40" width="13.1" height="19.6" fill="#e60000"/>
<text x="38.5" y="330.7" font-size="14.4" fill="#fff" text-anchor="middle" textLength="8.1" lengthAdjust="spacingAndGlyphs" stroke="#fff" stroke-width="0.25">4</text>
<rect x="49.62" y="316.74" width="13.1" height="19.6" fill="#e60000"/>
<text x="56.2" y="332.0" font-size="14.4" fill="#fff" text-anchor="middle" textLength="8.1" lengthAdjust="spacingAndGlyphs" stroke="#fff" stroke-width="0.25">5</text>
<text x="73.9" y="350.7" font-size="14.4" fill="#fff" text-anchor="middle" textLength="16.1" lengthAdjust="spacingAndGlyphs" stroke="#fff" stroke-width="0.25">19</text>
<text x="91.5" y="342.7" font-size="14.4" fill="#fff" text-anchor="middle" textLength="16.1" lengthAdjust="spacingAndGlyphs" stroke="#fff" stroke-width="0.25">13</text>
<rect x="120.35" y="320.52" width="13.1" height="17.4" fill="#e60000"/>
<text x="126.9" y="334.7" font-size="14.4" fill="#fff" text-anchor="middle" textLength="8.1" lengthAdjust="spacingAndGlyphs" stroke="#fff" stroke-width="0.25">7</text>
<text x="144.6" y="378.8" font-size="14.4" fill="#fff" text-anchor="middle" textLength="16.1" lengthAdjust="spacingAndGlyphs" stroke="#fff" stroke-width="0.25">40</text>
<text x="162.3" y="389.5" font-size="14.4" fill="#fff" text-anchor="middle" textLength="16.1" lengthAdjust="spacingAndGlyphs" stroke="#fff" stroke-width="0.25">48</text>
<rect x="173.40" y="318.08" width="13.1" height="19.6" fill="#e60000"/>
<text x="179.9" y="333.3" font-size="14.4" fill="#fff" text-anchor="middle" textLength="8.1" lengthAdjust="spacingAndGlyphs" stroke="#fff" stroke-width="0.25">6</text>
<text x="197.6" y="340.0" font-size="14.4" fill="#fff" text-anchor="middle" textLength="16.1" lengthAdjust="spacingAndGlyphs" stroke="#fff" stroke-width="0.25">11</text>
<rect x="208.76" y="312.73" width="13.1" height="19.6" fill="#e60000"/>
<text x="215.3" y="328.0" font-size="14.4" fill="#fff" text-anchor="middle" textLength="8.1" lengthAdjust="spacingAndGlyphs" stroke="#fff" stroke-width="0.25">2</text>
<rect x="350.22" y="316.74" width="13.1" height="19.6" fill="#e60000"/>
<text x="356.8" y="332.0" font-size="14.4" fill="#fff" text-anchor="middle" textLength="8.1" lengthAdjust="spacingAndGlyphs" stroke="#fff" stroke-width="0.25">5</text>
<rect x="367.90" y="312.73" width="13.1" height="19.6" fill="#e60000"/>
<text x="374.4" y="328.0" font-size="14.4" fill="#fff" text-anchor="middle" textLength="8.1" lengthAdjust="spacingAndGlyphs" stroke="#fff" stroke-width="0.25">2</text>
<rect x="385.58" y="314.06" width="13.1" height="19.6" fill="#e60000"/>
<text x="392.1" y="329.3" font-size="14.4" fill="#fff" text-anchor="middle" textLength="8.1" lengthAdjust="spacingAndGlyphs" stroke="#fff" stroke-width="0.25">3</text>
<rect x="403.26" y="312.73" width="13.1" height="19.6" fill="#e60000"/>
<text x="409.8" y="328.0" font-size="14.4" fill="#fff" text-anchor="middle" textLength="8.1" lengthAdjust="spacingAndGlyphs" stroke="#fff" stroke-width="0.25">2</text>
<rect x="456.31" y="321.85" width="13.1" height="17.4" fill="#e60000"/>
<text x="462.9" y="336.0" font-size="14.4" fill="#fff" text-anchor="middle" textLength="8.1" lengthAdjust="spacingAndGlyphs" stroke="#fff" stroke-width="0.25">8</text>
<rect x="473.99" y="323.19" width="13.1" height="17.4" fill="#e60000"/>
<text x="480.5" y="337.3" font-size="14.4" fill="#fff" text-anchor="middle" textLength="8.1" lengthAdjust="spacingAndGlyphs" stroke="#fff" stroke-width="0.25">9</text>
<text x="498.2" y="345.4" font-size="14.4" fill="#fff" text-anchor="middle" textLength="16.1" lengthAdjust="spacingAndGlyphs" stroke="#fff" stroke-width="0.25">15</text>
<text x="515.9" y="346.7" font-size="14.4" fill="#fff" text-anchor="middle" textLength="16.1" lengthAdjust="spacingAndGlyphs" stroke="#fff" stroke-width="0.25">16</text>
<text x="533.6" y="372.1" font-size="14.4" fill="#fff" text-anchor="middle" textLength="16.1" lengthAdjust="spacingAndGlyphs" stroke="#fff" stroke-width="0.25">35</text>
<text x="551.3" y="406.9" font-size="14.4" fill="#fff" text-anchor="middle" textLength="16.1" lengthAdjust="spacingAndGlyphs" stroke="#fff" stroke-width="0.25">61</text>
<text x="569.0" y="402.9" font-size="14.4" fill="#fff" text-anchor="middle" textLength="16.1" lengthAdjust="spacingAndGlyphs" stroke="#fff" stroke-width="0.25">58</text>
<text x="586.6" y="357.4" font-size="14.4" fill="#fff" text-anchor="middle" textLength="16.1" lengthAdjust="spacingAndGlyphs" stroke="#fff" stroke-width="0.25">24</text>
<text x="604.3" y="368.1" font-size="14.4" fill="#fff" text-anchor="middle" textLength="16.1" lengthAdjust="spacingAndGlyphs" stroke="#fff" stroke-width="0.25">32</text>
<text x="622.0" y="409.6" font-size="14.4" fill="#fff" text-anchor="middle" textLength="16.1" lengthAdjust="spacingAndGlyphs" stroke="#fff" stroke-width="0.25">63</text>
<text x="639.7" y="421.6" font-size="14.4" fill="#fff" text-anchor="middle" textLength="16.1" lengthAdjust="spacingAndGlyphs" stroke="#fff" stroke-width="0.25">72</text>
<text x="657.4" y="424.3" font-size="14.4" fill="#fff" text-anchor="middle" textLength="16.1" lengthAdjust="spacingAndGlyphs" stroke="#fff" stroke-width="0.25">74</text>
<text x="675.0" y="398.9" font-size="14.4" fill="#fff" text-anchor="middle" textLength="16.1" lengthAdjust="spacingAndGlyphs" stroke="#fff" stroke-width="0.25">55</text>
<text x="692.7" y="404.2" font-size="14.4" fill="#fff" text-anchor="middle" textLength="16.1" lengthAdjust="spacingAndGlyphs" stroke="#fff" stroke-width="0.25">59</text>
<text x="710.4" y="362.8" font-size="14.4" fill="#fff" text-anchor="middle" textLength="16.1" lengthAdjust="spacingAndGlyphs" stroke="#fff" stroke-width="0.25">28</text>
<text x="728.1" y="361.4" font-size="14.4" fill="#fff" text-anchor="middle" textLength="16.1" lengthAdjust="spacingAndGlyphs" stroke="#fff" stroke-width="0.25">27</text>
<text x="745.8" y="338.7" font-size="14.4" fill="#fff" text-anchor="middle" textLength="16.1" lengthAdjust="spacingAndGlyphs" stroke="#fff" stroke-width="0.25">10</text>
<rect x="756.90" y="312.73" width="13.1" height="19.6" fill="#e60000"/>
<text x="763.5" y="328.0" font-size="14.4" fill="#fff" text-anchor="middle" textLength="8.1" lengthAdjust="spacingAndGlyphs" stroke="#fff" stroke-width="0.25">2</text>
<rect x="774.58" y="320.52" width="13.1" height="17.4" fill="#e60000"/>
<text x="781.1" y="334.7" font-size="14.4" fill="#fff" text-anchor="middle" textLength="8.1" lengthAdjust="spacingAndGlyphs" stroke="#fff" stroke-width="0.25">7</text>
<text x="798.8" y="368.1" font-size="14.4" fill="#fff" text-anchor="middle" textLength="16.1" lengthAdjust="spacingAndGlyphs" stroke="#fff" stroke-width="0.25">32</text>
<text x="816.5" y="421.6" font-size="14.4" fill="#fff" text-anchor="middle" textLength="16.1" lengthAdjust="spacingAndGlyphs" stroke="#fff" stroke-width="0.25">72</text>
<text x="834.2" y="423.0" font-size="14.4" fill="#fff" text-anchor="middle" textLength="16.1" lengthAdjust="spacingAndGlyphs" stroke="#fff" stroke-width="0.25">73</text>
<text x="851.9" y="435.0" font-size="14.4" fill="#fff" text-anchor="middle" textLength="16.1" lengthAdjust="spacingAndGlyphs" stroke="#fff" stroke-width="0.25">82</text>
<text x="869.5" y="433.7" font-size="14.4" fill="#fff" text-anchor="middle" textLength="16.1" lengthAdjust="spacingAndGlyphs" stroke="#fff" stroke-width="0.25">81</text>
<text x="887.2" y="357.4" font-size="14.4" fill="#fff" text-anchor="middle" textLength="16.1" lengthAdjust="spacingAndGlyphs" stroke="#fff" stroke-width="0.25">24</text>
<rect x="898.36" y="321.85" width="13.1" height="17.4" fill="#e60000"/>
<text x="904.9" y="336.0" font-size="14.4" fill="#fff" text-anchor="middle" textLength="8.1" lengthAdjust="spacingAndGlyphs" stroke="#fff" stroke-width="0.25">8</text>
<rect x="916.04" y="312.73" width="13.1" height="19.6" fill="#e60000"/>
<text x="922.6" y="328.0" font-size="14.4" fill="#fff" text-anchor="middle" textLength="8.1" lengthAdjust="spacingAndGlyphs" stroke="#fff" stroke-width="0.25">2</text>
<ellipse cx="59.5" cy="296.9" rx="21.2" ry="17.3" fill="#e60000"/>
<text x="59.5" y="300.3" font-size="14.2" fill="#fff" font-weight="bold" text-anchor="middle" textLength="31.8" lengthAdjust="spacingAndGlyphs">+$25</text>
<ellipse cx="103.2" cy="296.9" rx="21.2" ry="17.3" fill="#e60000"/>
<text x="103.2" y="300.3" font-size="14.2" fill="#fff" font-weight="bold" text-anchor="middle" textLength="31.8" lengthAdjust="spacingAndGlyphs">+$30</text>
<ellipse cx="154.1" cy="295.8" rx="21.2" ry="17.3" fill="#e60000"/>
<text x="154.1" y="299.2" font-size="14.2" fill="#fff" font-weight="bold" text-anchor="middle" textLength="31.8" lengthAdjust="spacingAndGlyphs">+$40</text>
<ellipse cx="200.2" cy="296.9" rx="21.2" ry="17.3" fill="#e60000"/>
<text x="200.2" y="300.3" font-size="14.2" fill="#fff" font-weight="bold" text-anchor="middle" textLength="31.8" lengthAdjust="spacingAndGlyphs">+$30</text>
<ellipse cx="240.7" cy="296.9" rx="21.2" ry="17.3" fill="#e60000"/>
<text x="240.7" y="300.3" font-size="14.2" fill="#fff" font-weight="bold" text-anchor="middle" textLength="31.8" lengthAdjust="spacingAndGlyphs">+$30</text>
<ellipse cx="280.6" cy="296.9" rx="21.2" ry="17.3" fill="#e60000"/>
<text x="280.6" y="300.3" font-size="14.2" fill="#fff" font-weight="bold" text-anchor="middle" textLength="31.8" lengthAdjust="spacingAndGlyphs">+$30</text>
<ellipse cx="319.5" cy="296.9" rx="21.2" ry="17.3" fill="#e60000"/>
<text x="319.5" y="300.3" font-size="14.2" fill="#fff" font-weight="bold" text-anchor="middle" textLength="31.8" lengthAdjust="spacingAndGlyphs">+$30</text>
<ellipse cx="573.2" cy="295.8" rx="21.2" ry="17.3" fill="#e60000"/>
<text x="573.2" y="299.2" font-size="14.2" fill="#fff" font-weight="bold" text-anchor="middle" textLength="31.8" lengthAdjust="spacingAndGlyphs">+$40</text>
<ellipse cx="683" cy="296.8" rx="21.2" ry="17.3" fill="#e60000"/>
<text x="683.0" y="300.2" font-size="14.2" fill="#fff" font-weight="bold" text-anchor="middle" textLength="31.8" lengthAdjust="spacingAndGlyphs">+$40</text>
<ellipse cx="724" cy="296.8" rx="21.2" ry="17.3" fill="#e60000"/>
<text x="724.0" y="300.2" font-size="14.2" fill="#fff" font-weight="bold" text-anchor="middle" textLength="31.8" lengthAdjust="spacingAndGlyphs">+$40</text>
<ellipse cx="865.8" cy="297.6" rx="21.2" ry="17.3" fill="#e60000"/>
<text x="865.8" y="301.1" font-size="14.2" fill="#fff" font-weight="bold" text-anchor="middle" textLength="31.8" lengthAdjust="spacingAndGlyphs">+$40</text>
<ellipse cx="908.8" cy="297.6" rx="21.2" ry="17.3" fill="#e60000"/>
<text x="908.8" y="301.1" font-size="14.2" fill="#fff" font-weight="bold" text-anchor="middle" textLength="31.8" lengthAdjust="spacingAndGlyphs">+$40</text>
<ellipse cx="886.5" cy="266.9" rx="21.2" ry="17.3" fill="#e60000"/>
<text x="886.5" y="270.3" font-size="14.2" fill="#fff" font-weight="bold" text-anchor="middle" textLength="31.8" lengthAdjust="spacingAndGlyphs">+$40</text>
<text x="28.3" y="616.4" font-size="15.1" fill="#000" text-anchor="start" textLength="20.3" lengthAdjust="spacingAndGlyphs">Q3</text>
<text x="134.4" y="616.4" font-size="15.1" fill="#000" text-anchor="start" textLength="20.1" lengthAdjust="spacingAndGlyphs">Q4</text>
<text x="240.5" y="616.4" font-size="15.1" fill="#000" text-anchor="start" textLength="20.4" lengthAdjust="spacingAndGlyphs">Q1</text>
<text x="346.6" y="616.4" font-size="15.1" fill="#000" text-anchor="start" textLength="20.4" lengthAdjust="spacingAndGlyphs">Q2</text>
<text x="452.7" y="616.4" font-size="15.1" fill="#000" text-anchor="start" textLength="20.3" lengthAdjust="spacingAndGlyphs">Q3</text>
<text x="558.8" y="616.4" font-size="15.1" fill="#000" text-anchor="start" textLength="20.1" lengthAdjust="spacingAndGlyphs">Q4</text>
<text x="664.9" y="616.4" font-size="15.1" fill="#000" text-anchor="start" textLength="20.4" lengthAdjust="spacingAndGlyphs">Q1</text>
<text x="771.0" y="616.4" font-size="15.1" fill="#000" text-anchor="start" textLength="20.4" lengthAdjust="spacingAndGlyphs">Q2</text>
<text x="877.1" y="616.4" font-size="15.1" fill="#000" text-anchor="start" textLength="20.3" lengthAdjust="spacingAndGlyphs">Q3</text>
<text x="232.7" y="637.7" font-size="15.1" fill="#000" font-weight="bold" text-anchor="start" textLength="36.0" lengthAdjust="spacingAndGlyphs">2018</text>
<text x="656.8" y="637.7" font-size="15.1" fill="#000" font-weight="bold" text-anchor="start" textLength="36.1" lengthAdjust="spacingAndGlyphs">2019</text>
<text x="373.1" y="677.4" font-size="17.2" fill="#000" text-anchor="start" textLength="13.6" lengthAdjust="spacingAndGlyphs">©</text>
<text x="391.1" y="677.4" font-size="17.2" fill="#000" text-anchor="start" textLength="38.8" lengthAdjust="spacingAndGlyphs">Steel</text>
<text x="433.5" y="677.4" font-size="17.2" fill="#000" text-anchor="start" textLength="52.7" lengthAdjust="spacingAndGlyphs">Market</text>
<text x="492.0" y="677.4" font-size="17.2" fill="#000" text-anchor="start" textLength="55.8" lengthAdjust="spacingAndGlyphs">Update</text>
<text x="552.1" y="677.4" font-size="17.2" fill="#000" text-anchor="start" textLength="38.0" lengthAdjust="spacingAndGlyphs">2019</text>
<text x="938.8" y="715.6" font-size="11.5" fill="#9a9a9a" text-anchor="start" textLength="12.2" lengthAdjust="spacingAndGlyphs">38</text>
</svg></body></html>
